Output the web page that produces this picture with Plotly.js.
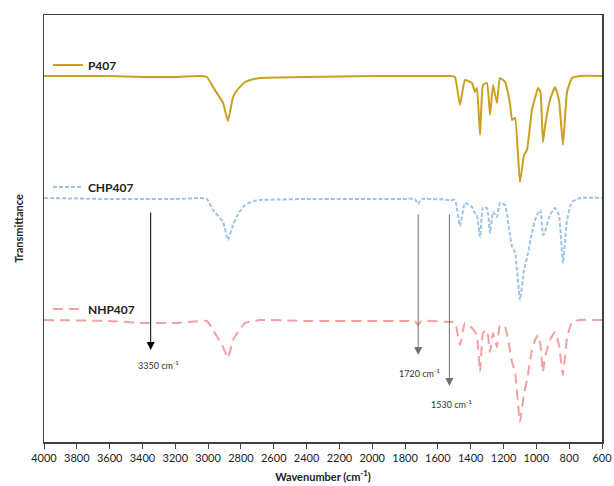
<!DOCTYPE html>
<html>
<head>
<meta charset="utf-8">
<script src="https://cdn.plot.ly/plotly-3.0.1.min.js"></script>
<style>html,body{margin:0;padding:0;background:#fff;}#chart{width:614px;height:486px;}</style>
</head>
<body>
<div id="chart"></div>
<script>
// Wavenumber grid (cm-1), shared by all spectra
const wavenumber = [4000,3600,3400,3200,3050,3007,2970,2909,2879,2848,2818,2775,2720,2684,2400,2000,1800,1740,1721,1700,1526,1496,1465,1435,1392,1374,1362,1343,1325,1301,1282,1264,1240,1222,1191,1161,1148,1130,1100,1075,1057,1027,1008,990,975,960,948,917,886,862,838,813,783,734,600];
// Transmittance (arbitrary units, spectra stacked)
const p407 = [366,366,365,365,366,365,355,339,321,345,353,360,363,364,365,366,366,366,366,366,366,365,337,362,359,350,354,307,357,359,327,357,339,364,360,339,322,324,260,287,292,332,344,354,350,300,315,342,355,342,297,350,364,366,366];
const chp407 = [244,243,243,243,244,243,232,220,202,217,228,237,241,242,243,243,243,243,238,243,242,242,216,239,235,229,227,205,235,234,209,230,225,239,237,207,195,190,142,172,184,209,222,229,232,207,210,227,234,227,179,222,240,244,244];
const nhp407 = [122,121,119,119,121,121,112,95,84,102,110,119,121,122,121,121,121,121,117,121,120,120,97,119,114,110,107,70,109,112,90,109,95,117,115,92,80,70,20,49,62,92,102,107,97,70,84,102,110,97,67,104,120,122,122];
const seriesNames = ["P407","CHP407","NHP407"];
const tickVals = [4000,3800,3600,3400,3200,3000,2800,2600,2400,2200,2000,1800,1600,1400,1200,1000,800,600];
// Band annotations: wavenumber, arrow start, arrow end, label and its position
const bands = [
  {wn:3350, y0:231, y1:92, label:"3350 cm<sup>-1</sup>", lx:3300, ly:85, col:"#000000"},
  {wn:1720, y0:229, y1:87, label:"1720 cm<sup>-1</sup>", lx:1710, ly:77, col:"#707070"},
  {wn:1530, y0:229, y1:56, label:"1530 cm<sup>-1</sup>", lx:1515, ly:46, col:"#707070"}
];

const font = "Lato, 'Open Sans', sans-serif";
const traces = [
  {x:wavenumber, y:p407, name:seriesNames[0], mode:"lines", line:{color:"#C9A020", width:2, shape:"spline", smoothing:0.4}, legend:"legend"},
  {x:wavenumber, y:chp407, name:seriesNames[1], mode:"lines", line:{color:"#9DC3E6", width:2, dash:"4px,2px", shape:"spline", smoothing:0.4}, legend:"legend2"},
  {x:wavenumber, y:nhp407, name:seriesNames[2], mode:"lines", line:{color:"#F4A0A0", width:2, dash:"10px,6px", shape:"spline", smoothing:0.4}, legend:"legend3"}
];

const annotations = [];
bands.forEach(b => {
  annotations.push({x:b.wn, y:b.y1, ax:b.wn, ay:b.y0, axref:"x", ayref:"y", xref:"x", yref:"y",
    text:"", showarrow:true, arrowhead:2, arrowsize:1.6, arrowwidth:1, arrowcolor:b.col});
  annotations.push({x:b.lx, y:b.ly, xref:"x", yref:"y", text:b.label, showarrow:false,
    font:{family:font, size:9, color:"#333"}, yanchor:"top"});
});

const legBase = {bgcolor:"rgba(0,0,0,0)", font:{family:font, size:12, color:"#222", weight:"bold"}, xanchor:"left", yanchor:"middle", itemwidth:30, tracegroupgap:0};

const layout = {
  width:614, height:486,
  margin:{l:44, r:12, t:15, b:44},
  paper_bgcolor:"#fff", plot_bgcolor:"#fff",
  font:{family:font},
  showlegend:true,
  legend:Object.assign({}, legBase, {x:0.007, y:(442-65)/427}),
  legend2:Object.assign({}, legBase, {x:0.007, y:(442-187)/427}),
  legend3:Object.assign({}, legBase, {x:0.007, y:(442-309)/427}),
  xaxis:{range:[4000,600], tickvals:tickVals, ticktext:tickVals.map(String), ticks:"outside", ticklen:5, tickcolor:"#404040",
    showgrid:false, zeroline:false, showline:true, linecolor:"#404040", linewidth:1.5, mirror:true,
    tickfont:{family:font, size:11, color:"#222"},
    title:{text:"<b>Wavenumber (cm<sup>-1</sup>)</b>", font:{family:font, size:11, color:"#222"}, standoff:10}},
  yaxis:{range:[0,427], showticklabels:false, ticks:"", showgrid:false, zeroline:false, showline:true, linecolor:"#404040", linewidth:1.5, mirror:true,
    title:{text:"<b>Transmittance</b>", font:{family:font, size:11, color:"#222"}, standoff:16}},
  annotations:annotations
};
Plotly.newPlot("chart", traces, layout, {displayModeBar:false, staticPlot:true});
</script>
</body>
</html>
